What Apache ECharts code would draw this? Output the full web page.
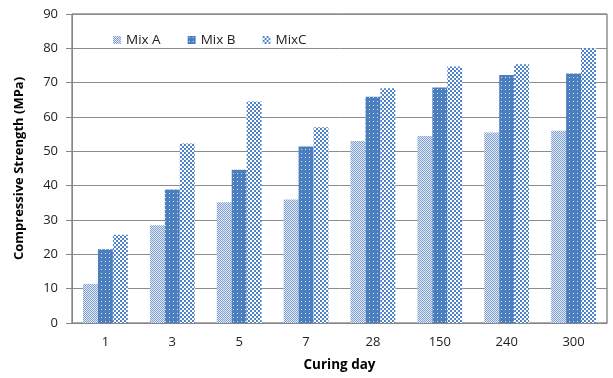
<!DOCTYPE html>
<html><head><meta charset="utf-8">
<script src="https://cdn.jsdelivr.net/npm/echarts@6/dist/echarts.min.js"></script>
<style>html,body{margin:0;padding:0;background:#fff}#c{width:613px;height:378px}</style>
</head><body><div id="c"></div>
<script>
const categories = ['1','3','5','7','28','150','240','300'];
const mixA = [11.4, 28.5, 35.2, 36.0, 53.0, 54.5, 55.5, 56.0];
const mixB = [21.5, 38.9, 44.6, 51.4, 65.9, 68.6, 72.2, 72.7];
const mixC = [25.7, 52.3, 64.5, 57.0, 68.4, 74.7, 75.4, 80.0];
const seriesNames = ['Mix A', 'Mix B', 'MixC'];

function pattern(size, draw) {
  const cv = document.createElement('canvas');
  cv.width = size; cv.height = size;
  const ctx = cv.getContext('2d');
  draw(ctx);
  return { image: cv, repeat: 'repeat' };
}
const patA = pattern(2, ctx => {
  ctx.fillStyle = '#e2eaf5'; ctx.fillRect(0,0,2,2);
  ctx.fillStyle = '#7f9fd2'; ctx.fillRect(0,0,1,1); ctx.fillRect(1,1,1,1);
});
const patB = pattern(4, ctx => {
  ctx.fillStyle = '#4a7ebf'; ctx.fillRect(0,0,4,4);
  ctx.fillStyle = '#d8e3f2'; ctx.fillRect(1,1,1,1);
});
const patC = pattern(4, ctx => {
  ctx.fillStyle = '#ffffff'; ctx.fillRect(0,0,4,4);
  ctx.fillStyle = '#4f83c8'; ctx.fillRect(0,0,2,2); ctx.fillRect(2,2,2,2);
});

const chart = echarts.init(document.getElementById('c'), null, {renderer: 'canvas'});
const font = '"Open Sans", "Liberation Sans", sans-serif';
chart.setOption({
  animation: false,
  textStyle: { fontFamily: font },
  grid: { left: 72, right: 6, top: 14, bottom: 55, show: true, borderColor: '#595959', borderWidth: 1 },
  legend: {
    left: 108, top: 28, itemWidth: 8, itemHeight: 8, itemGap: 27, icon: 'rect',
    textStyle: { fontSize: 13.5, color: '#222', fontFamily: font },
    data: seriesNames
  },
  xAxis: {
    type: 'category', data: categories,
    name: 'Curing day', nameLocation: 'middle', nameGap: 35,
    nameTextStyle: { fontSize: 13.5, fontWeight: 'bold', color: '#000', fontFamily: font },
    axisLine: { lineStyle: { color: '#868686', width: 1 } },
    axisTick: { show: false },
    axisLabel: { fontSize: 13, color: '#222', margin: 13, fontFamily: font },
  },
  yAxis: {
    type: 'value', min: 0, max: 90, interval: 10,
    name: 'Compressive Strength (MPa)', nameLocation: 'middle', nameGap: 46,
    nameTextStyle: { fontSize: 13, fontWeight: 'bold', color: '#000', fontFamily: font },
    axisLine: { show: true, lineStyle: { color: '#868686' } },
    axisTick: { show: true, length: 6, lineStyle: { color: '#868686' } },
    axisLabel: { fontSize: 13, color: '#222', margin: 14, fontFamily: font },
    splitLine: { lineStyle: { color: '#8c8c8c', width: 1 } }
  },
  series: [
    { name: seriesNames[0], type: 'bar', data: mixA, barGap: '0%', barCategoryGap: '33%', itemStyle: { color: patA } },
    { name: seriesNames[1], type: 'bar', data: mixB, barGap: '0%', barCategoryGap: '33%', itemStyle: { color: patB } },
    { name: seriesNames[2], type: 'bar', data: mixC, barGap: '0%', barCategoryGap: '33%', itemStyle: { color: patC } }
  ]
});
</script></body></html>
